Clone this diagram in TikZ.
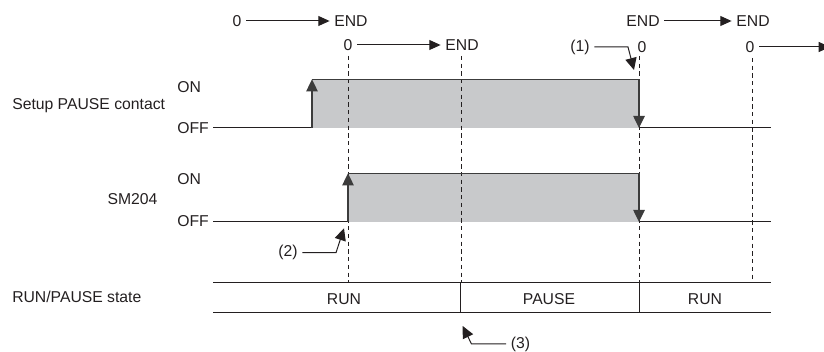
\documentclass[tikz,border=0pt]{standalone}
\usepackage{fontspec}
\setmainfont{Liberation Sans}
\usetikzlibrary{arrows.meta}
\definecolor{sigfill}{RGB}{200,201,203}
\definecolor{ink}{RGB}{35,31,32}
\definecolor{sigtop}{RGB}{60,60,60}
\begin{document}
\begin{tikzpicture}[x=0.75pt,y=-0.75pt,
  every node/.style={font=\fontsize{11.8}{13}\selectfont, text=ink, inner sep=0pt},
  lbl/.style={inner xsep=3.4pt, inner ysep=0pt},
  tipa/.style={-{Triangle[length=8.5pt,width=7.5pt]}},
  tipb/.style={-{Triangle[length=9pt,width=8.5pt]}},
  line/.style={draw=ink, line width=0.75pt},
  sig/.style={draw=sigtop, line width=1.1pt},
  guide/.style={draw=ink, line width=0.75pt, dash pattern=on 3.2pt off 2.6pt}]
\useasboundingbox (0,0) rectangle (824,352);

% top counters
\node[lbl] (z1) at (237,21) {0};
\node[lbl] (e1) at (351,21) {END};
\node[lbl] (z2) at (348,45) {0};
\node[lbl] (e2) at (462,45) {END};
\node[lbl] (e3) at (643,21) {END};
\node[lbl] (e4) at (753,21) {END};
\node[lbl] (n1) at (580,47) {(1)};
\node[lbl] (z3) at (642,47) {0};
\node[lbl] (z4) at (750,47) {0};
\coordinate (z4end) at (830,47);
\draw[line,tipa] (z1) -- (e1);
\draw[line,tipa] (z2) -- (e2);
\draw[line,tipa] (e3) -- (e4);
\draw[line,tipa] (z4) -- (z4end);

% labels
\node[anchor=west] (lab1) at (12,106) {Setup PAUSE contact};
\node[anchor=west] (on1) at (177,87) {ON};
\node[anchor=west] (off1) at (177,128) {OFF};
\node (lab2) at (132.5,199) {SM204};
\node[anchor=west] (on2) at (177,179) {ON};
\node[anchor=west] (off2) at (177,221) {OFF};
\node[anchor=west] (lab3) at (12,297) {RUN/PAUSE state};

% fills
\fill[sigfill] (312,79.3) rectangle (639,128);
\fill[sigfill] (348,173.3) rectangle (639,222);

% guide lines
\draw[guide] (348,56) -- (348,283);
\draw[guide] (461,56) -- (461,283);
\draw[guide] (639,56) -- (639,283);
\draw[guide] (752,58) -- (752,283);

% signal 1
\coordinate (s1a) at (213,128);
\coordinate (s1b) at (312,128);
\coordinate (s1c) at (312,79.3);
\coordinate (s1d) at (639,79.3);
\coordinate (s1e) at (639,128);
\coordinate (s1f) at (771,128);
\draw[line] (s1a) -- (s1b);
\draw[sig,tipb] (s1b) -- (s1c);
\draw[sig] (s1c) -- (s1d);
\draw[sig,tipb] (s1d) -- (s1e);
\draw[line] (s1e) -- (s1f);

% signal 2
\coordinate (s2a) at (213,222);
\coordinate (s2b) at (348,222);
\coordinate (s2c) at (348,173.3);
\coordinate (s2d) at (639,173.3);
\coordinate (s2e) at (639,222);
\coordinate (s2f) at (771,222);
\draw[line] (s2a) -- (s2b);
\draw[sig,tipb] (s2b) -- (s2c);
\draw[sig] (s2c) -- (s2d);
\draw[sig,tipb] (s2d) -- (s2e);
\draw[line] (s2e) -- (s2f);

% table
\draw[line] (213,283) -- (771,283);
\draw[line] (213,313) -- (771,313);
\draw[line] (460,283) -- (460,313);
\draw[line] (639,283) -- (639,313);
\node (r1) at (344,299) {RUN};
\node (p1) at (549,299) {PAUSE};
\node (r2) at (705,299) {RUN};

% annotations
\coordinate (t1) at (634,70);
\draw[line,tipb] (n1) -- (628,47) -- (t1);
\node[lbl] (n2) at (288,252.7) {(2)};
\coordinate (t2) at (344,228.3);
\draw[line,tipb] (n2) -- (336,252.7) -- (t2);
\node[lbl,anchor=west] (n3) at (506,344) {(3)};
\coordinate (t3) at (462.7,326);
\draw[line,tipb] (n3) -- (471.5,344) -- (t3);
\end{tikzpicture}
\end{document}
